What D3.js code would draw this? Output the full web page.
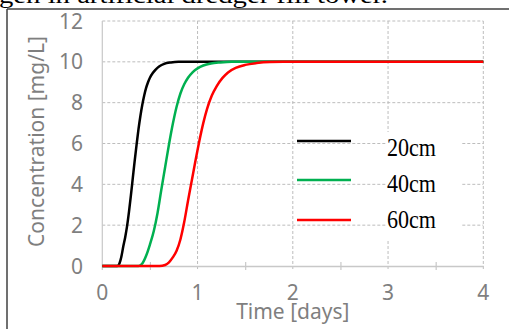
<!DOCTYPE html>
<html>
<head>
<meta charset="utf-8">
<script src="https://cdn.jsdelivr.net/npm/d3@7"></script>
<style>
  html, body { margin: 0; padding: 0; background: #fff; }
  svg { display: block; }
</style>
</head>
<body>
<svg id="chart" width="509" height="329"></svg>
<script>
// ---- data ----
const seriesNames = ["20cm", "40cm", "60cm"];
const seriesColors = ["#000000", "#00b050", "#ff0000"];
const xTicks = [0, 1, 2, 3, 4];
const yTicks = [0, 2, 4, 6, 8, 10, 12];

const t20 = [0, 0.16, 0.18, 0.20, 0.22, 0.24, 0.26, 0.28, 0.30, 0.32, 0.34, 0.36, 0.38, 0.40, 0.42, 0.44, 0.46, 0.48, 0.50, 0.53, 0.56, 0.60, 0.65, 0.72, 0.80, 4];
const c20 = [0, 0, 0.12, 0.45, 0.95, 1.4, 1.95, 2.65, 3.45, 4.3, 5.15, 5.95, 6.7, 7.35, 7.9, 8.35, 8.72, 9.0, 9.22, 9.45, 9.62, 9.78, 9.9, 9.97, 10, 10];

const t40 = [0, 0.38, 0.42, 0.46, 0.50, 0.54, 0.58, 0.62, 0.66, 0.70, 0.74, 0.78, 0.82, 0.86, 0.90, 0.95, 1.00, 1.06, 1.14, 1.24, 1.36, 4];
const c40 = [0, 0, 0.12, 0.5, 1.05, 1.7, 2.6, 3.75, 4.85, 5.95, 6.95, 7.8, 8.45, 8.9, 9.22, 9.5, 9.68, 9.82, 9.92, 9.97, 10, 10];

const t60 = [0, 0.60, 0.66, 0.70, 0.74, 0.78, 0.82, 0.86, 0.90, 0.94, 0.98, 1.02, 1.06, 1.10, 1.15, 1.20, 1.26, 1.32, 1.40, 1.50, 1.62, 1.76, 1.90, 4];
const c60 = [0, 0, 0.05, 0.18, 0.42, 0.75, 1.3, 2.15, 3.2, 4.2, 5.2, 6.15, 7.0, 7.7, 8.35, 8.8, 9.2, 9.48, 9.7, 9.85, 9.94, 9.99, 10, 10];

const seriesT = [t20, t40, t60];
const seriesC = [c20, c40, c60];

// ---- layout ----
const svg = d3.select("#chart");
const x = d3.scaleLinear().domain([0, 4]).range([102.3, 483.3]);
const y = d3.scaleLinear().domain([0, 12]).range([266, 21]);
const sans = "'Noto Sans', 'DejaVu Sans', sans-serif";
const serif = "'Liberation Serif', 'DejaVu Serif', serif";

// caption fragment at top (cut off by the page edge, as in the source)
svg.append("text")
  .attr("x", -1).attr("y", 3)
  .attr("font-family", serif).attr("font-size", 24)
  .attr("fill", "#000")
  .attr("textLength", 389).attr("lengthAdjust", "spacingAndGlyphs")
  .text("gen in artificial dredger fill tower.");

// frame
svg.append("line").attr("x1", 7).attr("x2", 509).attr("y1", 9).attr("y2", 9)
  .attr("stroke", "#404040").attr("stroke-width", 1.5);
svg.append("line").attr("x1", 7).attr("x2", 7).attr("y1", 9).attr("y2", 329)
  .attr("stroke", "#404040").attr("stroke-width", 1.5);

// gridlines
const grid = svg.append("g");
grid.selectAll("line.h").data(yTicks.filter(d => d > 0)).join("line")
  .attr("x1", x(0)).attr("x2", x(4))
  .attr("y1", d => y(d)).attr("y2", d => y(d))
  .attr("stroke", "#bdbdbd").attr("stroke-width", 1).attr("stroke-dasharray", "3,2");
grid.selectAll("line.v").data(xTicks.filter(d => d > 0)).join("line")
  .attr("x1", d => x(d)).attr("x2", d => x(d))
  .attr("y1", y(12)).attr("y2", y(0) + 4)
  .attr("stroke", "#bdbdbd").attr("stroke-width", 1).attr("stroke-dasharray", "3,2");

// left axis line (solid)
svg.append("line").attr("x1", x(0)).attr("x2", x(0)).attr("y1", y(12)).attr("y2", y(0) + 4)
  .attr("stroke", "#c8c8c8").attr("stroke-width", 1.2);

// bottom axis with minor ticks
const xAxis = d3.axisBottom(x).tickValues([0.5, 1.5, 2.5, 3.5]).tickSizeInner(4).tickSizeOuter(0).tickFormat("");
const gx = svg.append("g").attr("transform", `translate(0,${y(0)})`).call(xAxis);
gx.select(".domain").attr("stroke", "#c8c8c8").attr("stroke-width", 1.5);
gx.selectAll(".tick line").attr("stroke", "#c8c8c8").attr("stroke-width", 1.2).attr("y1", -4).attr("y2", 4);

// tick labels
svg.append("g").selectAll("text").data(yTicks).join("text")
  .attr("x", 83).attr("y", d => y(d) + 7.5)
  .attr("text-anchor", "end")
  .attr("font-family", sans).attr("font-size", 21).attr("fill", "#7f7f7f")
  .text(d => d);
svg.append("g").selectAll("text").data(xTicks).join("text")
  .attr("x", d => x(d)).attr("y", 300)
  .attr("text-anchor", "middle")
  .attr("font-family", sans).attr("font-size", 21).attr("fill", "#7f7f7f")
  .text(d => d);

// axis titles
svg.append("text")
  .attr("x", x(2)).attr("y", 319)
  .attr("text-anchor", "middle")
  .attr("font-family", sans).attr("font-size", 21).attr("fill", "#7f7f7f")
  .text("Time [days]");
svg.append("text")
  .attr("transform", `translate(44,${(y(0) + y(12)) / 2 - 2}) rotate(-90)`)
  .attr("text-anchor", "middle")
  .attr("font-family", sans).attr("font-size", 21).attr("fill", "#7f7f7f")
  .text("Concentration [mg/L]");

// legend white box behind text
svg.append("rect").attr("x", 387).attr("y", 132).attr("width", 75).attr("height", 108).attr("fill", "#fff");

// curves
const line = d3.line().x(d => x(d[0])).y(d => y(d[1])).curve(d3.curveMonotoneX);
seriesNames.forEach((name, i) => {
  const pts = seriesT[i].map((t, j) => [t, seriesC[i][j]]);
  svg.append("path").datum(pts)
    .attr("d", line)
    .attr("fill", "none")
    .attr("stroke", seriesColors[i])
    .attr("stroke-width", 2.5)
    .attr("stroke-linejoin", "round");
});

// legend
const legLineY = [141, 180, 220];
const legTextY = [156, 192, 228];
const leg = svg.append("g");
seriesNames.forEach((name, i) => {
  leg.append("line")
    .attr("x1", 297).attr("x2", 351)
    .attr("y1", legLineY[i]).attr("y2", legLineY[i])
    .attr("stroke", seriesColors[i]).attr("stroke-width", 2.5);
  leg.append("text")
    .attr("x", 387).attr("y", legTextY[i])
    .attr("font-family", serif).attr("font-size", 25).attr("fill", "#000")
    .attr("textLength", 49).attr("lengthAdjust", "spacingAndGlyphs")
    .text(name);
});
</script>
</body>
</html>
